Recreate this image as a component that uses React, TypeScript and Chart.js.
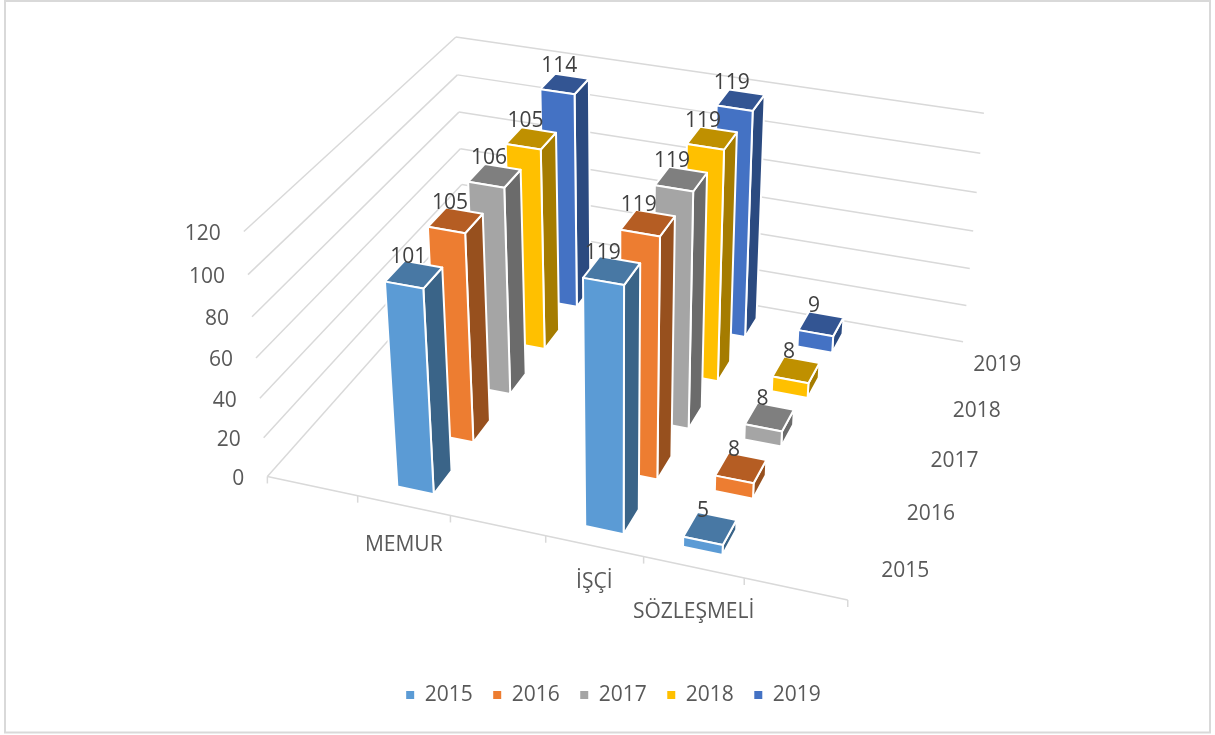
import React, { useEffect, useRef } from "react";
import { Chart, registerables } from "chart.js";

Chart.register(...registerables);

const categories = ["", "MEMUR", "", "İŞÇİ", "SÖZLEŞMELİ", ""];
const series = ["2015", "2016", "2017", "2018", "2019"];
const values2015 = [null, 101, null, 119, 5, null];
const values2016 = [null, 105, null, 119, 8, null];
const values2017 = [null, 106, null, 119, 8, null];
const values2018 = [null, 105, null, 119, 8, null];
const values2019 = [null, 114, null, 119, 9, null];
const seriesValues = [values2015, values2016, values2017, values2018, values2019];
const frontColors = ["#5B9BD5", "#ED7D31", "#A5A5A5", "#FFC000", "#4472C4"];
const topColors = ["#4878A4", "#B55D23", "#7F7F7F", "#BF9000", "#335593"];
const sideColors = ["#3A6488", "#97501E", "#6B6B6B", "#A57C00", "#2B4A80"];

const FONT = '"Open Sans", sans-serif';
const FONT_SIZE = 21;
const GRID = "#D9D9D9";

// Camera fit: (category fraction, depth fraction, value fraction) -> canvas pixel
const viewAnchors = [
  [0, 0, 0, 267, 476],
  [1, 0, 0, 848, 600],
  [1, 1, 0, 963, 342],
  [0, 1, 0, 465, 255],
  [0, 0, 1, 244, 232],
  [1, 1, 1, 984, 113],
  [0, 1, 1, 456, 37],
  [0, 0, 0.5, 256, 358],
  [0, 1, 0.5, 460, 148],
  [1, 1, 0.5, 973, 231],
];
const catLabelDy = [0, 38, 0, 34, 43, 0];
const dataLabelDx = [0, -5.5, 0, -9, -7, 0];
const BAR_HALF_U = 0.198;
const BAR_SHIFT_U = 0.0;
const BAR_HALF_V = 0.22;

function fitCamera() {
  const rows: number[][] = [];
  const rhs: number[] = [];
  viewAnchors.forEach(([u, v, w, x, y]) => {
    const X = x / 1000;
    const Y = y / 1000;
    rows.push([u, v, w, 1, 0, 0, 0, 0, -X * u, -X * v, -X * w]);
    rhs.push(X);
    rows.push([0, 0, 0, 0, u, v, w, 1, -Y * u, -Y * v, -Y * w]);
    rhs.push(Y);
  });
  const n = 11;
  const A: number[][] = [];
  for (let i = 0; i < n; i++) {
    const line = new Array(n + 1).fill(0);
    rows.forEach((r, k) => {
      for (let j = 0; j < n; j++) line[j] += r[i] * r[j];
      line[n] += r[i] * rhs[k];
    });
    A.push(line);
  }
  for (let i = 0; i < n; i++) {
    let p = i;
    for (let k = i + 1; k < n; k++) if (Math.abs(A[k][i]) > Math.abs(A[p][i])) p = k;
    [A[i], A[p]] = [A[p], A[i]];
    for (let k = 0; k < n; k++) {
      if (k === i) continue;
      const f = A[k][i] / A[i][i];
      for (let j = i; j <= n; j++) A[k][j] -= f * A[i][j];
    }
  }
  return A.map((l, i) => l[n] / l[i]);
}

const cam = fitCamera();
function project(u: number, v: number, w: number): [number, number] {
  const d = cam[8] * u + cam[9] * v + cam[10] * w + 1;
  return [
    (1000 * (cam[0] * u + cam[1] * v + cam[2] * w + cam[3])) / d,
    (1000 * (cam[4] * u + cam[5] * v + cam[6] * w + cam[7])) / d,
  ];
}

const threeD = {
  id: "threeD",
  beforeDatasetsDraw(chart: any) {
    const { ctx, scales } = chart;
    const xs = scales.x;
    const ys = scales.y;
    const nCat = categories.length;
    const nSer = series.length;
    const uOf = (i: number) => (xs.getPixelForValue(i) - xs.left) / xs.width;
    const wOf = (val: number) => (ys.bottom - ys.getPixelForValue(val)) / (ys.bottom - ys.top);

    const line = (a: [number, number], b: [number, number]) => {
      ctx.beginPath();
      ctx.moveTo(a[0], a[1]);
      ctx.lineTo(b[0], b[1]);
      ctx.stroke();
    };
    const face = (pts: [number, number][], fill: string) => {
      ctx.beginPath();
      pts.forEach((p, i) => (i ? ctx.lineTo(p[0], p[1]) : ctx.moveTo(p[0], p[1])));
      ctx.closePath();
      ctx.fillStyle = fill;
      ctx.fill();
      ctx.stroke();
    };

    ctx.save();
    ctx.strokeStyle = GRID;
    ctx.lineWidth = 2;
    ctx.strokeRect(5, 1, 1205, 731.5);

    ctx.lineWidth = 1.5;
    ys.ticks.forEach((t: any) => {
      const w = wOf(t.value);
      line(project(0, 0, w), project(0, 1, w));
      line(project(0, 1, w), project(1, 1, w));
    });
    line(project(0, 0, 0), project(1, 0, 0));
    for (let i = 0; i <= nCat; i++) {
      const p = project(i / nCat, 0, 0);
      line(p, [p[0], p[1] + 7]);
    }

    ctx.font = `${FONT_SIZE}px ${FONT}`;
    ctx.fillStyle = "#595959";
    ctx.textBaseline = "middle";
    ctx.textAlign = "right";
    ys.ticks.forEach((t: any) => {
      const p = project(0, 0, wOf(t.value));
      ctx.fillText(String(t.value), p[0] - 23, p[1] + 2.5);
    });
    ctx.textAlign = "center";
    categories.forEach((c, i) => {
      if (!c) return;
      const p = project(uOf(i), 0, 0);
      ctx.fillText(c, p[0], p[1] + catLabelDy[i] + 1.5);
    });
    series.forEach((s, k) => {
      const p = project(1, (k + 0.5) / nSer, 0);
      ctx.fillText(s, p[0] + 44, p[1] + 1.5);
    });

    ctx.strokeStyle = "#FFFFFF";
    ctx.lineWidth = 2;
    ctx.lineJoin = "round";
    for (let k = nSer - 1; k >= 0; k--) {
      const data = chart.data.datasets[k].data;
      data.forEach((val: number | null, i: number) => {
        if (val === null) return;
        const uc = uOf(i) + BAR_SHIFT_U / nCat;
        const vc = (k + 0.5) / nSer;
        const u0 = uc - BAR_HALF_U / nCat;
        const u1 = uc + BAR_HALF_U / nCat;
        const v0 = vc - BAR_HALF_V / nSer;
        const v1 = vc + BAR_HALF_V / nSer;
        const w = wOf(val);
        face([project(u1, v0, 0), project(u1, v1, 0), project(u1, v1, w), project(u1, v0, w)], sideColors[k]);
        face([project(u0, v0, w), project(u1, v0, w), project(u1, v1, w), project(u0, v1, w)], topColors[k]);
        face([project(u0, v0, 0), project(u1, v0, 0), project(u1, v0, w), project(u0, v0, w)], frontColors[k]);
      });
    }

    ctx.fillStyle = "#404040";
    ctx.textAlign = "center";
    for (let k = nSer - 1; k >= 0; k--) {
      chart.data.datasets[k].data.forEach((val: number | null, i: number) => {
        if (val === null) return;
        const p = project(uOf(i), (k + 0.5) / nSer, wOf(val));
        ctx.fillText(String(val), p[0] + dataLabelDx[i], p[1] - 17.5);
      });
    }
    ctx.restore();
    return false;
  },
};

export default function App() {
  const ref = useRef<HTMLCanvasElement>(null);
  useEffect(() => {
    document.body.style.margin = "0";
    const chart = new Chart(ref.current!, {
      type: "bar",
      data: {
        labels: categories,
        datasets: series.map((s, k) => ({
          label: s,
          data: seriesValues[k],
          backgroundColor: frontColors[k],
          borderWidth: 0,
        })),
      },
      options: {
        responsive: false,
        animation: false,
        layout: { padding: { bottom: 19.5, left: 12 } },
        scales: {
          x: { display: false },
          y: { display: false, min: 0, max: 120, ticks: { stepSize: 20 } },
        },
        plugins: {
          tooltip: { enabled: false },
          legend: {
            position: "bottom",
            labels: {
              boxWidth: 8,
              boxHeight: 8,
              padding: 20.5,
              color: "#595959",
              font: { family: FONT, size: FONT_SIZE },
            },
          },
        },
      },
      plugins: [threeD],
    } as any);
    return () => chart.destroy();
  }, []);
  return (
    <div style={{ position: "absolute", left: 0, top: 0 }}>
      <canvas ref={ref} width={1215} height={735} style={{ display: "block" }} />
    </div>
  );
}
